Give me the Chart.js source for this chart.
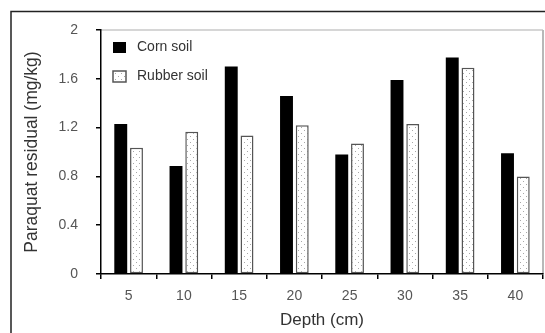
<!DOCTYPE html>
<html>
<head>
<meta charset="utf-8">
<script src="https://cdn.jsdelivr.net/npm/chart.js@4/dist/chart.umd.min.js"></script>
<style>
    html, body { margin: 0; padding: 0; background: #fff; }
    #chart { display: block; }
</style>
</head>
<body>
<canvas id="chart" width="545" height="333"></canvas>
<script>
// Data
const depths = ['5', '10', '15', '20', '25', '30', '35', '40'];
const cornSoil = [1.23, 0.885, 1.70, 1.46, 0.98, 1.59, 1.775, 0.99];
const rubberSoil = [1.035, 1.165, 1.135, 1.22, 1.07, 1.23, 1.69, 0.80];
const yTicks = [0, 0.4, 0.8, 1.2, 1.6, 2];

const FONT = 'Arial, "Liberation Sans", Helvetica, sans-serif';

// Dotted fill used for rubber soil bars
function makeDots() {
    const c = document.createElement('canvas');
    c.width = 6;
    c.height = 6;
    const g = c.getContext('2d');
    g.fillStyle = '#fff';
    g.fillRect(0, 0, 6, 6);
    g.fillStyle = '#a8a8a8';
    g.fillRect(1, 1, 1, 1);
    g.fillRect(4, 4, 1, 1);
    return g.createPattern(c, 'repeat');
}

// Frame, plot border and legend
const decorations = {
    id: 'decorations',
    beforeDraw(chart) {
        const { ctx, chartArea: a } = chart;
        ctx.save();
        ctx.strokeStyle = '#222';
        ctx.lineWidth = 1.5;
        ctx.beginPath();
        ctx.moveTo(11, 333);
        ctx.lineTo(11, 11.5);
        ctx.lineTo(545, 11.5);
        ctx.stroke();

        ctx.lineWidth = 2;
        ctx.strokeStyle = '#d6d6d6';
        ctx.beginPath();
        ctx.moveTo(a.left, a.top);
        ctx.lineTo(a.right, a.top);
        ctx.stroke();
        ctx.strokeStyle = '#b8b8b8';
        ctx.beginPath();
        ctx.moveTo(a.right, a.top);
        ctx.lineTo(a.right, a.bottom);
        ctx.stroke();
        ctx.restore();
    },
    afterDraw(chart) {
        const { ctx, chartArea: a } = chart;
        ctx.save();
        ctx.font = '14px ' + FONT;
        ctx.textBaseline = 'middle';
        chart.data.datasets.forEach((ds, i) => {
            const x = a.left + 12;
            const y = a.top + 12 + i * 29;
            ctx.fillStyle = ds.backgroundColor;
            ctx.fillRect(x, y, 13, 11);
            if (ds.borderWidth) {
                ctx.strokeStyle = ds.borderColor;
                ctx.lineWidth = 1.5;
                ctx.strokeRect(x, y, 13, 11);
            }
            ctx.fillStyle = '#333';
            ctx.fillText(ds.label, x + 24, y + 5);
        });
        ctx.restore();
    }
};

function initChart() {
    const ctx = document.getElementById('chart').getContext('2d');
    new Chart(ctx, {
        type: 'bar',
        data: {
            labels: depths,
            datasets: [{
                label: 'Corn soil',
                data: cornSoil,
                backgroundColor: '#000',
                borderWidth: 0
            }, {
                label: 'Rubber soil',
                data: rubberSoil,
                backgroundColor: makeDots(),
                borderColor: '#555',
                borderWidth: 1.5,
                borderSkipped: false
            }]
        },
        options: {
            responsive: false,
            animation: false,
            categoryPercentage: 0.57,
            barPercentage: 0.82,
            layout: { padding: { left: 0, top: 30, right: 2, bottom: 0 } },
            plugins: {
                legend: { display: false },
                tooltip: { enabled: false }
            },
            scales: {
                x: {
                    afterFit: s => { s.height = 59; },
                    border: { color: '#000', width: 1.5 },
                    grid: {
                        offset: true,
                        drawOnChartArea: false,
                        color: '#000',
                        tickLength: 5,
                        lineWidth: 1.5
                    },
                    ticks: {
                        color: '#555',
                        padding: 9,
                        font: { family: FONT, size: 14 }
                    },
                    title: {
                        display: true,
                        text: 'Depth (cm)',
                        color: '#333',
                        padding: { top: 0, bottom: 2 },
                        font: { family: FONT, size: 17 }
                    }
                },
                y: {
                    min: 0,
                    max: 2,
                    afterFit: s => { s.width = 101; },
                    afterBuildTicks: s => { s.ticks = yTicks.map(v => ({ value: v })); },
                    border: { color: '#000', width: 1.5 },
                    grid: {
                        drawOnChartArea: false,
                        color: '#000',
                        tickLength: 5,
                        lineWidth: 1.5
                    },
                    ticks: {
                        color: '#555',
                        padding: 18,
                        font: { family: FONT, size: 14 },
                        callback: v => String(v)
                    },
                    title: {
                        display: true,
                        text: 'Paraquat residual (mg/kg)',
                        color: '#333',
                        padding: { top: 22, bottom: 0 },
                        font: { family: FONT, size: 17.5 }
                    }
                }
            }
        },
        plugins: [decorations]
    });
}

initChart();
</script>
</body>
</html>
